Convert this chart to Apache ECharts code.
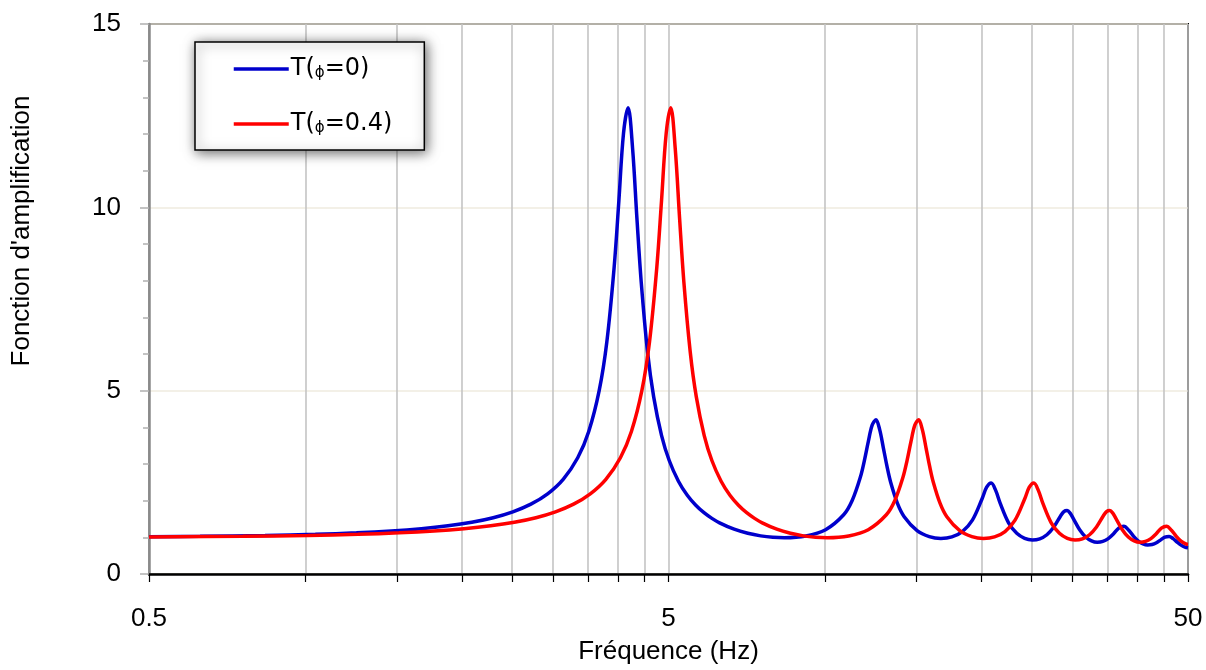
<!DOCTYPE html>
<html>
<head>
<meta charset="utf-8">
<script src="https://cdn.jsdelivr.net/npm/echarts@6.0.0/dist/echarts.min.js"></script>
<style>
  html, body { margin: 0; padding: 0; background: #fff; }
  #chart { width: 1206px; height: 670px; }
</style>
</head>
<body>
<div id="chart"></div>
<script>
// ---- data ----
const seriesNames = ['T(ϕ=0)', 'T(ϕ=0.4)'];

const blueFreq = [0.5, 0.627, 0.836, 1.045, 1.254, 1.463, 1.672, 1.881, 2.09, 2.299, 2.508, 2.717, 2.926, 3.135, 3.344, 3.511, 3.678, 3.804, 3.929, 4.013, 4.096, 4.18, 4.264, 4.347, 4.431, 4.556, 4.682, 4.849, 5.016, 5.225, 5.434, 5.643, 5.852, 6.061, 6.27, 6.688, 7.106, 7.524, 7.942, 8.36, 9.196, 10.032, 10.868, 11.286, 11.704, 11.913, 12.122, 12.331, 12.54, 12.749, 12.958, 13.167, 13.376, 13.794, 14.212, 15.048, 15.884, 16.72, 17.556, 18.392, 19.228, 20.064, 20.482, 20.9, 21.318, 21.736, 22.572, 23.408, 24.244, 25.08, 25.916, 26.752, 27.588, 28.424, 28.842, 29.26, 29.678, 30.096, 30.932, 31.768, 32.604, 33.44, 34.276, 35.112, 35.948, 36.784, 37.62, 38.456, 39.292, 40.128, 40.964, 41.8, 42.636, 43.472, 44.308, 45.144, 45.98, 46.816, 47.652, 48.488, 49.324, 50];
const blueAmp = [1.018, 1.028, 1.051, 1.082, 1.122, 1.172, 1.235, 1.314, 1.412, 1.536, 1.696, 1.905, 2.187, 2.583, 3.171, 3.886, 5.007, 6.328, 8.357, 10.185, 12.018, 12.719, 11.610, 9.699, 7.955, 6.063, 4.830, 3.775, 3.095, 2.531, 2.149, 1.876, 1.672, 1.517, 1.395, 1.221, 1.110, 1.040, 1.001, 0.988, 1.036, 1.208, 1.615, 2.005, 2.644, 3.093, 3.608, 4.060, 4.205, 3.937, 3.442, 2.940, 2.518, 1.927, 1.564, 1.182, 1.019, 0.970, 1.011, 1.157, 1.468, 2.045, 2.366, 2.482, 2.281, 1.940, 1.396, 1.109, 0.972, 0.929, 0.960, 1.071, 1.283, 1.582, 1.701, 1.730, 1.652, 1.506, 1.208, 1.009, 0.904, 0.867, 0.888, 0.965, 1.098, 1.249, 1.303, 1.194, 1.028, 0.898, 0.821, 0.792, 0.804, 0.853, 0.931, 1.006, 1.025, 0.965, 0.870, 0.787, 0.733, 0.714];

const redFreq = [0.5, 0.758, 1.01, 1.263, 1.515, 1.768, 2.02, 2.273, 2.525, 2.778, 3.03, 3.283, 3.535, 3.788, 4.04, 4.242, 4.444, 4.596, 4.747, 4.848, 4.949, 5.05, 5.151, 5.252, 5.353, 5.505, 5.656, 5.858, 6.06, 6.313, 6.565, 6.818, 7.07, 7.323, 7.575, 8.08, 8.585, 9.09, 9.595, 10.1, 11.11, 12.12, 13.13, 13.635, 14.14, 14.393, 14.645, 14.898, 15.15, 15.403, 15.655, 15.908, 16.16, 16.665, 17.17, 18.18, 19.19, 20.2, 21.21, 22.22, 23.23, 24.24, 24.745, 25.25, 25.755, 26.26, 27.27, 28.28, 29.29, 30.3, 31.31, 32.32, 33.33, 34.34, 34.845, 35.35, 35.855, 36.36, 37.37, 38.38, 39.39, 40.4, 41.41, 42.42, 43.43, 44.44, 45.45, 46.46, 47.47, 48.48, 49.49, 50];
const redAmp = [1.012, 1.028, 1.051, 1.082, 1.122, 1.172, 1.235, 1.314, 1.412, 1.536, 1.696, 1.905, 2.187, 2.583, 3.171, 3.886, 5.007, 6.328, 8.357, 10.185, 12.018, 12.719, 11.610, 9.699, 7.955, 6.063, 4.830, 3.775, 3.095, 2.531, 2.149, 1.876, 1.672, 1.517, 1.395, 1.221, 1.110, 1.040, 1.001, 0.988, 1.036, 1.208, 1.615, 2.005, 2.644, 3.093, 3.608, 4.060, 4.205, 3.937, 3.442, 2.940, 2.518, 1.927, 1.564, 1.182, 1.019, 0.970, 1.011, 1.157, 1.468, 2.045, 2.366, 2.482, 2.281, 1.940, 1.396, 1.109, 0.972, 0.929, 0.960, 1.071, 1.283, 1.582, 1.701, 1.730, 1.652, 1.506, 1.208, 1.009, 0.904, 0.867, 0.888, 0.965, 1.098, 1.249, 1.303, 1.194, 1.028, 0.898, 0.821, 0.806];

const xGridValues = [0.5, 1, 1.5, 2, 2.5, 3, 3.5, 4, 4.5, 5, 10, 15, 20, 25, 30, 35, 40, 45, 50];
const xLabelValues = [0.5, 5, 50];
const yMin = 0, yMax = 15, yStep = 5;

const xTitle = 'Fréquence (Hz)';
const yTitle = "Fonction d'amplification";

// ---- chart ----
const FONT = '"Liberation Sans", Arial, sans-serif';
const LFONT = '"DejaVu Sans", sans-serif';
const chart = echarts.init(document.getElementById('chart'), null, { renderer: 'canvas' });

const blueData = blueFreq.map((f, i) => [f, blueAmp[i]]);
const redData = redFreq.map((f, i) => [f, redAmp[i]]);

chart.setOption({
  animation: false,
  backgroundColor: '#ffffff',
  grid: {
    left: 149, right: 18, top: 24, bottom: 94,
    show: true, borderColor: '#000', borderWidth: 2, backgroundColor: 'transparent'
  },
  legend: {
    orient: 'vertical',
    left: 195, top: 42,
    padding: [15, 32, 14, 37],
    itemWidth: 55, itemHeight: 14, itemGap: 31,
    backgroundColor: '#fff',
    borderColor: '#000', borderWidth: 1.5,
    shadowBlur: 12, shadowColor: 'rgba(0,0,0,0.6)', shadowOffsetX: 2, shadowOffsetY: 2,
    itemStyle: { opacity: 0 },
    lineStyle: { width: 3.5 },
    data: seriesNames,
    formatter: n => n.replace('ϕ', '{p|ϕ}'),
    textStyle: {
      fontFamily: LFONT, fontSize: 24, color: '#000', padding: [0, 0, 0, -3],
      rich: { p: { fontFamily: LFONT, fontSize: 15, verticalAlign: 'bottom', color: '#000' } }
    }
  },
  xAxis: {
    type: 'log', logBase: 10, min: 0.5, max: 50,
    name: xTitle, nameLocation: 'middle', nameGap: 65,
    nameTextStyle: { fontFamily: FONT, fontSize: 26, color: '#000' },
    axisLine: { show: true, onZero: false, lineStyle: { color: '#000', width: 2.5 } },
    axisTick: { show: true, inside: false, length: 8, customValues: xGridValues, lineStyle: { color: '#000', width: 1.2 } },
    axisLabel: { customValues: xLabelValues, fontFamily: FONT, fontSize: 26, color: '#000', margin: 32,
      formatter: v => String(v) },
    splitLine: { show: true, lineStyle: { color: '#c4c4c4', width: 1.6 } },
    minorTick: { show: false }, minorSplitLine: { show: false }
  },
  yAxis: {
    type: 'value', min: yMin, max: yMax, interval: yStep,
    axisLine: { show: true, lineStyle: { color: '#8a8a8a', width: 2.5 } },
    axisTick: { show: true, inside: false, length: 9, lineStyle: { color: '#b0b0b0', width: 1.5 } },
    minorTick: { show: true, splitNumber: 5, length: 6, lineStyle: { color: '#b0b0b0', width: 1.5 } },
    axisLabel: { fontFamily: FONT, fontSize: 26, color: '#000', margin: 28 },
    splitLine: { show: true, lineStyle: { color: '#efebdf', width: 1.5 } }
  },
  graphic: [{
    type: 'text', x: 22, y: 231, rotation: Math.PI / 2,
    style: { text: yTitle, font: '26px "Liberation Sans", Arial, sans-serif', fill: '#000', align: 'center', verticalAlign: 'middle' }
  }],
  series: [
    { name: seriesNames[0], type: 'line', data: blueData, showSymbol: false, symbol: 'none', smooth: 0.35,
      lineStyle: { color: '#0000cc', width: 3.5 }, itemStyle: { color: '#0000cc' }, clip: true },
    { name: seriesNames[1], type: 'line', data: redData, showSymbol: false, symbol: 'none', smooth: 0.35,
      lineStyle: { color: '#ff0000', width: 3.5 }, itemStyle: { color: '#ff0000' }, clip: true }
  ]
});
</script>
</body>
</html>
